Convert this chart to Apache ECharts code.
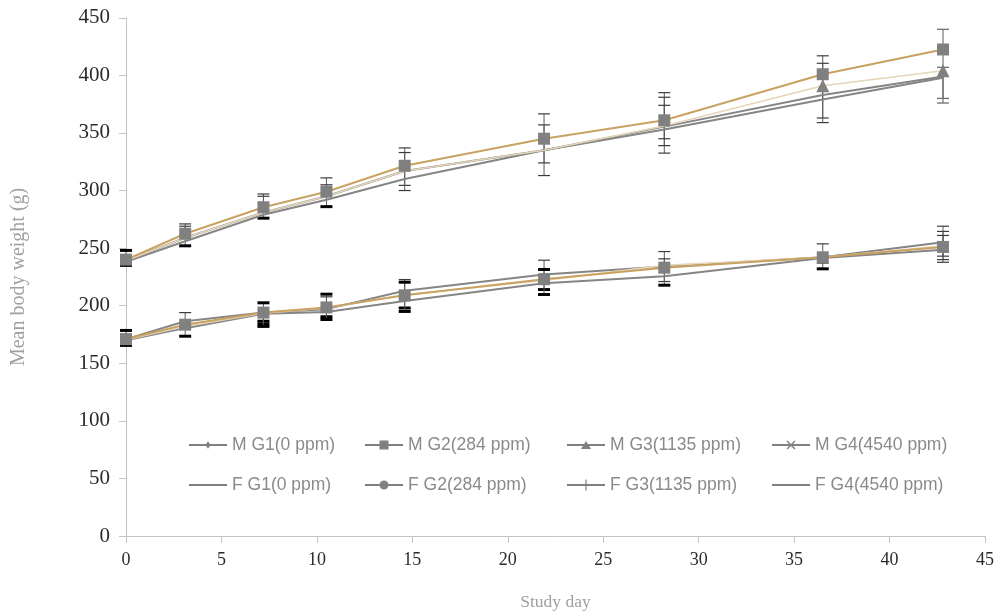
<!DOCTYPE html>
<html>
<head>
<meta charset="utf-8">
<script src="https://cdn.jsdelivr.net/npm/echarts@6/dist/echarts.min.js"></script>
<style>html,body{margin:0;padding:0;background:#fff}#c{width:1002px;height:616px}</style>
</head>
<body>
<div id="c"></div>
<script>
// ---- data ----
const days = [0, 3.1, 7.2, 10.5, 14.6, 21.9, 28.2, 36.5, 42.8];

const mG1 = [239, 259, 281, 295, 317, 335, 355.5, 383, 399];
const mG2 = [240, 262.5, 285.5, 299, 321.5, 345, 361, 401, 422.5];
const mG3 = [239, 259, 281, 295, 317, 335, 356, 391, 404];
const mG4 = [238, 256, 279, 292, 310, 335, 353, 379, 398];

const fG1 = [171, 186.5, 194, 197, 213, 227, 234, 242, 255];
const fG2 = [171, 183.5, 194, 198.5, 209, 223, 233, 242, 251];
const fG3 = [170.5, 182, 193.5, 198, 209.5, 222, 235, 242, 252];
const fG4 = [170, 180.5, 193, 194.5, 204, 219.5, 225.5, 241.5, 248.5];

// error bars: [day, mean, plus, minus, style]  style 0 = thin, 1 = thick black, 2 = grey
const maleErr = [
  [0, 240, 8, 5, 1],
  [3.1, 261, 10, 0, 0], [3.1, 261, 8, 0, 0], [3.1, 261, 0, 9, 1],
  [7.2, 285, 12, 0, 0], [7.2, 285, 10, 0, 0], [7.2, 285, 0, 9, 1],
  [10.5, 297, 14, 0, 0], [10.5, 297, 8, 0, 0], [10.5, 297, 0, 11, 1],
  [14.6, 319, 18, 14.5, 0], [14.6, 319, 14, 19, 0],
  [21.9, 340, 26.6, 27, 0], [21.9, 340, 17, 16, 0],
  [28.2, 358, 27, 25.5, 0], [28.2, 358, 23, 19, 0], [28.2, 358, 16, 13, 0],
  [36.5, 388, 29, 29, 0], [36.5, 388, 22.5, 25, 0],
  [42.8, 410, 30, 34, 2], [42.8, 400, 7, 20, 2]
];
const femaleErr = [
  [0, 171, 7.5, 5.5, 1],
  [3.1, 184, 10, 0, 0], [3.1, 184, 0, 10.5, 1],
  [7.2, 194, 8.5, 0, 1], [7.2, 194, 0, 7.5, 1], [7.2, 194, 0, 10, 1], [7.2, 194, 0, 12, 1],
  [10.5, 198, 12, 0, 1], [10.5, 198, 9.7, 0, 0], [10.5, 198, 0, 7.6, 1], [10.5, 198, 0, 10, 1],
  [14.6, 209, 13.7, 0, 0], [14.6, 209, 11.4, 0, 1], [14.6, 209, 0, 11, 1], [14.6, 209, 0, 14, 1],
  [21.9, 223, 16.5, 0, 0], [21.9, 223, 8.4, 0, 1], [21.9, 223, 0, 9, 1], [21.9, 223, 0, 13.3, 1],
  [28.2, 231, 16, 0, 0], [28.2, 231, 9.7, 0, 0], [28.2, 231, 0, 10, 0], [28.2, 231, 0, 13.2, 1],
  [36.5, 242, 11.7, 0, 0], [36.5, 242, 0, 5, 0], [36.5, 242, 0, 10, 1],
  [42.8, 251.5, 17.5, 13.8, 0], [42.8, 251.5, 13, 11.5, 0], [42.8, 251.5, 9.5, 8.5, 0]
];

const names = ['M G1(0 ppm)', 'M G2(284 ppm)', 'M G3(1135 ppm)', 'M G4(4540 ppm)',
               'F G1(0 ppm)', 'F G2(284 ppm)', 'F G3(1135 ppm)', 'F G4(4540 ppm)'];

// ---- styles ----
const GRAY = '#858585', GOLD = '#c9a261', TAN = '#e6d5b8', MARK = '#808080';
const errStyles = [
  {c: '#3c3c3c', w: 1.2},
  {c: '#000000', w: 3},
  {c: '#6e6e6e', w: 1.3}
];
const LINE = 'M0,5 H38 V7 H0 Z ';
const icons = {
  'M G1(0 ppm)': LINE + 'M19,2.2 L21.6,6 L19,9.8 L16.4,6 Z',
  'M G2(284 ppm)': LINE + 'M14.5,1.5 H23.5 V10.5 H14.5 Z',
  'M G3(1135 ppm)': LINE + 'M19,1.8 L24,10 L14,10 Z',
  'M G4(4540 ppm)': LINE + 'M14.5,2.5 L15.5,1.5 L19,5 L22.5,1.5 L23.5,2.5 L20,6 L23.5,9.5 L22.5,10.5 L19,7 L15.5,10.5 L14.5,9.5 L18,6 Z',
  'F G1(0 ppm)': LINE,
  'F G2(284 ppm)': LINE + 'M19,1.5 A4.5,4.5 0 1,1 18.99,1.5 Z',
  'F G3(1135 ppm)': LINE + 'M18.4,0.5 H19.6 V11.5 H18.4 Z',
  'F G4(4540 ppm)': LINE
};

function pts(arr) { return arr.map((v, i) => [days[i], v]); }

function renderErr(params, api) {
  const d = api.value(0), m = api.value(1), p = api.value(2), n = api.value(3), s = api.value(4);
  const top = api.coord([d, m + p]);
  const bot = api.coord([d, m - n]);
  const st = errStyles[s];
  const hw = 6;
  const ch = [{type: 'line', shape: {x1: top[0], y1: top[1], x2: bot[0], y2: bot[1]},
               style: {stroke: '#5a5a5a', lineWidth: 1}}];
  if (p > 0) ch.push({type: 'line', shape: {x1: top[0] - hw, y1: top[1], x2: top[0] + hw, y2: top[1]},
                      style: {stroke: st.c, lineWidth: st.w}});
  if (n > 0) ch.push({type: 'line', shape: {x1: bot[0] - hw, y1: bot[1], x2: bot[0] + hw, y2: bot[1]},
                      style: {stroke: st.c, lineWidth: st.w}});
  return {type: 'group', children: ch};
}

function lineSeries(name, arr, color, width, symbol, size, extra) {
  return Object.assign({
    name: name, type: 'line', data: pts(arr),
    symbol: symbol, symbolSize: size, showSymbol: true,
    lineStyle: {color: color, width: width},
    itemStyle: {color: MARK},
    emphasis: {disabled: true},
    z: 3
  }, extra || {});
}

const serifFont = 'Liberation Serif';
const legendText = {color: '#8a8a8a', fontSize: 17.5, fontFamily: 'Liberation Sans', lineHeight: 20};
const legendCols = [184, 360, 562, 767];
const legends = [0, 1, 2, 3].map(c => ({
  orient: 'vertical', left: legendCols[c], top: 430,
  itemWidth: 38, itemHeight: 12, itemGap: 20,
  selectedMode: false,
  itemStyle: {color: MARK, borderWidth: 0},
  textStyle: legendText,
  data: [names[c], names[c + 4]].map(n => ({name: n, icon: 'path://' + icons[n]}))
}));

const option = {
  animation: false,
  backgroundColor: '#ffffff',
  grid: {left: 126, right: 17, top: 17.8, bottom: 79},
  legend: legends,
  xAxis: {
    type: 'value', min: 0, max: 45, interval: 5,
    name: 'Study day', nameLocation: 'middle', nameGap: 57,
    nameTextStyle: {color: '#a0a0a0', fontSize: 17.5, fontFamily: serifFont},
    axisLine: {show: true, lineStyle: {color: '#c4c4c4', width: 1}},
    axisTick: {show: true, length: 7, lineStyle: {color: '#c4c4c4'}},
    axisLabel: {color: '#2b2b2b', fontSize: 18, fontFamily: serifFont, margin: 15},
    splitLine: {show: false}
  },
  yAxis: {
    type: 'value', min: 0, max: 450, interval: 50,
    name: 'Mean body weight (g)', nameLocation: 'middle', nameGap: 97,
    nameTextStyle: {color: '#a0a0a0', fontSize: 20, fontFamily: serifFont},
    axisLine: {show: true, lineStyle: {color: '#c4c4c4', width: 1}},
    axisTick: {show: true, length: 7, lineStyle: {color: '#c4c4c4'}},
    axisLabel: {color: '#2b2b2b', fontSize: 21, fontFamily: serifFont, margin: 16},
    splitLine: {show: false}
  },
  series: [
    {type: 'custom', name: 'male error', renderItem: renderErr, data: maleErr, z: 2,
     encode: {x: 0, y: 1}, silent: true},
    {type: 'custom', name: 'female error', renderItem: renderErr, data: femaleErr, z: 2,
     encode: {x: 0, y: 1}, silent: true},
    lineSeries(names[3], mG4, GRAY, 2, 'circle', 0),
    lineSeries(names[0], mG1, GRAY, 2, 'circle', 0),
    lineSeries(names[2], mG3, TAN, 1.6, 'triangle', (v, p) => p.dataIndex >= 7 ? 13 : 0),
    lineSeries(names[1], mG2, GOLD, 2, 'rect', 12),
    lineSeries(names[7], fG4, GRAY, 2, 'circle', 0),
    lineSeries(names[4], fG1, GRAY, 2, 'circle', 0),
    lineSeries(names[6], fG3, TAN, 1.6, 'circle', 0),
    lineSeries(names[5], fG2, GOLD, 2, 'rect', 12)
  ]
};

const chart = echarts.init(document.getElementById('c'), null, {renderer: 'canvas'});
chart.setOption(option);
</script>
</body>
</html>
